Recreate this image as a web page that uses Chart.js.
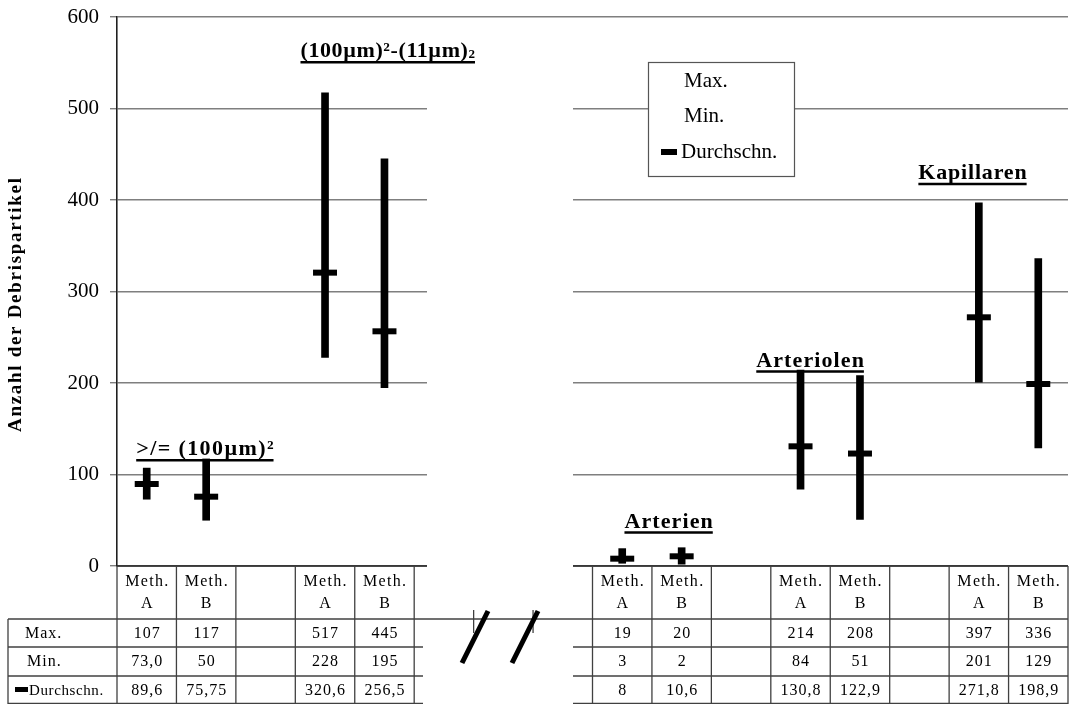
<!DOCTYPE html>
<html>
<head>
<meta charset="utf-8">
<title>Anzahl der Debrispartikel</title>
<script src="https://cdn.jsdelivr.net/npm/chart.js"></script>
<style>
  html, body { margin: 0; padding: 0; background: #fff; }
  #wrap { width: 1069px; height: 704px; }
</style>
</head>
<body>
<div id="wrap"><canvas id="debrisChart" width="1069" height="704"></canvas></div>
<script>
// 16 slots on the x axis, the empty ones are gaps (5-7 sit under the axis break)
const catTop    = ['Meth.','Meth.','','Meth.','Meth.','','','','Meth.','Meth.','','Meth.','Meth.','','Meth.','Meth.'];
const catBottom = ['A','B','','A','B','','','','A','B','','A','B','','A','B'];
const maxVals = [107, 117, null, 517, 445, null, null, null, 19, 20, null, 214, 208, null, 397, 336];
const minVals = [73, 50, null, 228, 195, null, null, null, 3, 2, null, 84, 51, null, 201, 129];
const avgVals = [89.6, 75.75, null, 320.6, 256.5, null, null, null, 8, 10.6, null, 130.8, 122.9, null, 271.8, 198.9];
// values as printed in the data table
const maxText = ['107','117','','517','445','','','','19','20','','214','208','','397','336'];
const minText = ['73,0','50','','228','195','','','','3','2','','84','51','','201','129'];
const avgText = ['89,6','75,75','','320,6','256,5','','','','8','10,6','','130,8','122,9','','271,8','198,9'];
const rowNames = ['Max.', 'Min.', 'Durchschn.'];
const yTicks = [0, 100, 200, 300, 400, 500, 600];
// group titles, placed in axis units (category index, value)
const groupLabels = ['>/= (100µm)²', '(100µm)²-(11µm)', 'Arterien', 'Arteriolen', 'Kapillaren'];
const groupSub    = ['', '2', '', '', ''];
const groupX = [0.99, 4.06, 8.79, 11.17, 13.9];
const groupY = [121, 556, 42, 218, 423];

const SERIF = '"Liberation Serif", "Times New Roman", serif';
const LINE = '#404040';

function drawText(ctx, txt, x, y, font, align, spacing) {
  ctx.font = font;
  ctx.letterSpacing = (spacing || 0) + 'px';
  ctx.textAlign = align;
  ctx.fillText(txt, align === 'center' ? x + (spacing || 0) / 2 : x, y);
  ctx.letterSpacing = '0px';
}

function hline(ctx, x1, x2, y) { ctx.beginPath(); ctx.moveTo(x1, y); ctx.lineTo(x2, y); ctx.stroke(); }
function vline(ctx, x, y1, y2) { ctx.beginPath(); ctx.moveTo(x, y1); ctx.lineTo(x, y2); ctx.stroke(); }

const breakL = 427, breakR = 573; // axis break, in pixels

const extras = {
  id: 'extras',
  beforeDatasetsDraw(chart) {
    const { ctx, chartArea } = chart;
    ctx.save();
    ctx.fillStyle = '#fff';
    ctx.fillRect(breakL, chartArea.top + 2, breakR - breakL, chartArea.bottom - chartArea.top + 2);
    ctx.restore();
  },
  afterDraw(chart) {
    const { ctx, chartArea } = chart;
    const xs = chart.scales.x, ys = chart.scales.y;
    const cw = xs.getPixelForValue(1) - xs.getPixelForValue(0);
    const edge = i => xs.getPixelForValue(0) - cw / 2 + i * cw;
    const bot = chartArea.bottom;
    const rowY = [bot + 53, bot + 81, bot + 110, 703.5];
    ctx.save();
    ctx.fillStyle = '#000';
    ctx.textBaseline = 'alphabetic';

    // x axis line
    ctx.strokeStyle = '#202020';
    ctx.lineWidth = 1.6;
    hline(ctx, chartArea.left, breakL, bot);
    hline(ctx, breakR, chartArea.right, bot);

    // data table grid
    ctx.strokeStyle = LINE;
    ctx.lineWidth = 1.3;
    for (let i = 0; i <= 16; i++) {
      const x = edge(i);
      if (x > breakL && x < breakR) vline(ctx, x, rowY[0] - 9, rowY[0] + 14);
      else vline(ctx, x, bot, 704);
    }
    vline(ctx, 8, rowY[0], 704);
    hline(ctx, 8, chartArea.right, rowY[0]);
    for (let r = 1; r < 4; r++) {
      hline(ctx, 8, breakL - 4, rowY[r]);
      hline(ctx, breakR, chartArea.right, rowY[r]);
    }

    // break marks
    ctx.strokeStyle = '#000';
    ctx.lineWidth = 5;
    ctx.beginPath(); ctx.moveTo(462, 663); ctx.lineTo(488, 611); ctx.stroke();
    ctx.beginPath(); ctx.moveTo(512, 663); ctx.lineTo(538, 611); ctx.stroke();

    // table text
    const tFont = '16px ' + SERIF;
    for (let i = 0; i < 16; i++) {
      const cx = xs.getPixelForValue(i);
      if (catTop[i]) drawText(ctx, catTop[i], cx, bot + 20, tFont, 'center', 1.3);
      if (catBottom[i]) drawText(ctx, catBottom[i], cx, bot + 42, tFont, 'center', 1);
      [maxText, minText, avgText].forEach((arr, r) => {
        if (arr[i]) drawText(ctx, arr[i], cx, rowY[r] + 19, tFont, 'center', 1);
      });
    }
    drawText(ctx, rowNames[0], 25, rowY[0] + 19, tFont, 'left', 1);
    drawText(ctx, rowNames[1], 27, rowY[1] + 19, tFont, 'left', 1);
    ctx.fillRect(15, rowY[2] + 11, 13, 5);
    drawText(ctx, rowNames[2], 29, rowY[2] + 19, '15px ' + SERIF, 'left', 0.6);

    // group titles, bold and underlined
    const spacing = [1.4, 0.6, 1.1, 1.1, 0.8];
    ctx.lineWidth = 2.5;
    ctx.strokeStyle = '#000';
    groupLabels.forEach((lab, i) => {
      const fMain = 'bold 22px ' + SERIF, fSub = 'bold 13px ' + SERIF;
      const sp = spacing[i];
      ctx.font = fMain; ctx.letterSpacing = sp + 'px';
      let w = ctx.measureText(lab).width;
      let ws = 0;
      if (groupSub[i]) { ctx.font = fSub; ws = ctx.measureText(groupSub[i]).width; }
      ctx.letterSpacing = '0px';
      const cx = xs.getPixelForValue(groupX[i]);
      const by = ys.getPixelForValue(groupY[i]);
      const x0 = cx - (w + ws) / 2;
      drawText(ctx, lab, x0, by, fMain, 'left', sp);
      if (groupSub[i]) drawText(ctx, groupSub[i], x0 + w, by + 1, fSub, 'left', 0);
      hline(ctx, x0, x0 + w + ws - sp, by + 5);
    });

    // legend box
    ctx.fillStyle = '#fff';
    ctx.fillRect(648, 62, 147, 115);
    ctx.strokeStyle = '#555';
    ctx.lineWidth = 1.2;
    ctx.strokeRect(648.5, 62.5, 146, 114);
    ctx.fillStyle = '#000';
    const lFont = '21px ' + SERIF;
    drawText(ctx, rowNames[0], 684, 87, lFont, 'left', 0);
    drawText(ctx, rowNames[1], 684, 122, lFont, 'left', 0);
    ctx.fillRect(661, 149, 16, 6);
    drawText(ctx, rowNames[2], 681, 158, lFont, 'left', 0);

    // y axis title
    ctx.translate(16, 305);
    ctx.rotate(-Math.PI / 2);
    ctx.textBaseline = 'middle';
    drawText(ctx, 'Anzahl der Debrispartikel', 0, 0, 'bold 19px ' + SERIF, 'center', 1.7);
    ctx.restore();
  }
};

const ctx = document.getElementById('debrisChart').getContext('2d');
new Chart(ctx, {
  type: 'bar',
  data: {
    labels: catTop.map((t, i) => (t + ' ' + catBottom[i]).trim() || ('gap' + i)),
    datasets: [
      {
        label: 'Max./Min.',
        data: minVals.map((v, i) => v === null ? null : [v, maxVals[i]]),
        backgroundColor: '#000',
        barThickness: 7,
        borderWidth: 0
      },
      {
        type: 'line',
        label: 'Durchschn.',
        data: avgVals,
        showLine: false,
        pointStyle: 'line',
        pointRadius: 12,
        pointHoverRadius: 12,
        pointBorderWidth: 6,
        pointHoverBorderWidth: 6,
        borderColor: '#000',
        backgroundColor: '#000'
      }
    ]
  },
  options: {
    responsive: false,
    animation: false,
    layout: { autoPadding: false, padding: { top: 17, bottom: 138, left: 0, right: 1 } },
    plugins: { legend: { display: false }, tooltip: { enabled: false } },
    scales: {
      x: {
        type: 'category',
        display: false,
        offset: true,
        afterFit: s => { s.paddingLeft = 0; s.paddingRight = 0; }
      },
      y: {
        min: 0,
        max: 600,
        afterBuildTicks: s => { s.ticks = yTicks.map(v => ({ value: v })); },
        afterFit: s => { s.width = 117; s.paddingTop = 0; s.paddingBottom = 0; },
        ticks: { color: '#000', padding: 11, font: { family: SERIF, size: 21 } },
        grid: { color: '#7f7f7f', lineWidth: 1.4, tickLength: 7 },
        border: { color: '#202020', width: 1.6 }
      }
    }
  },
  plugins: [extras]
});
</script>
</body>
</html>
